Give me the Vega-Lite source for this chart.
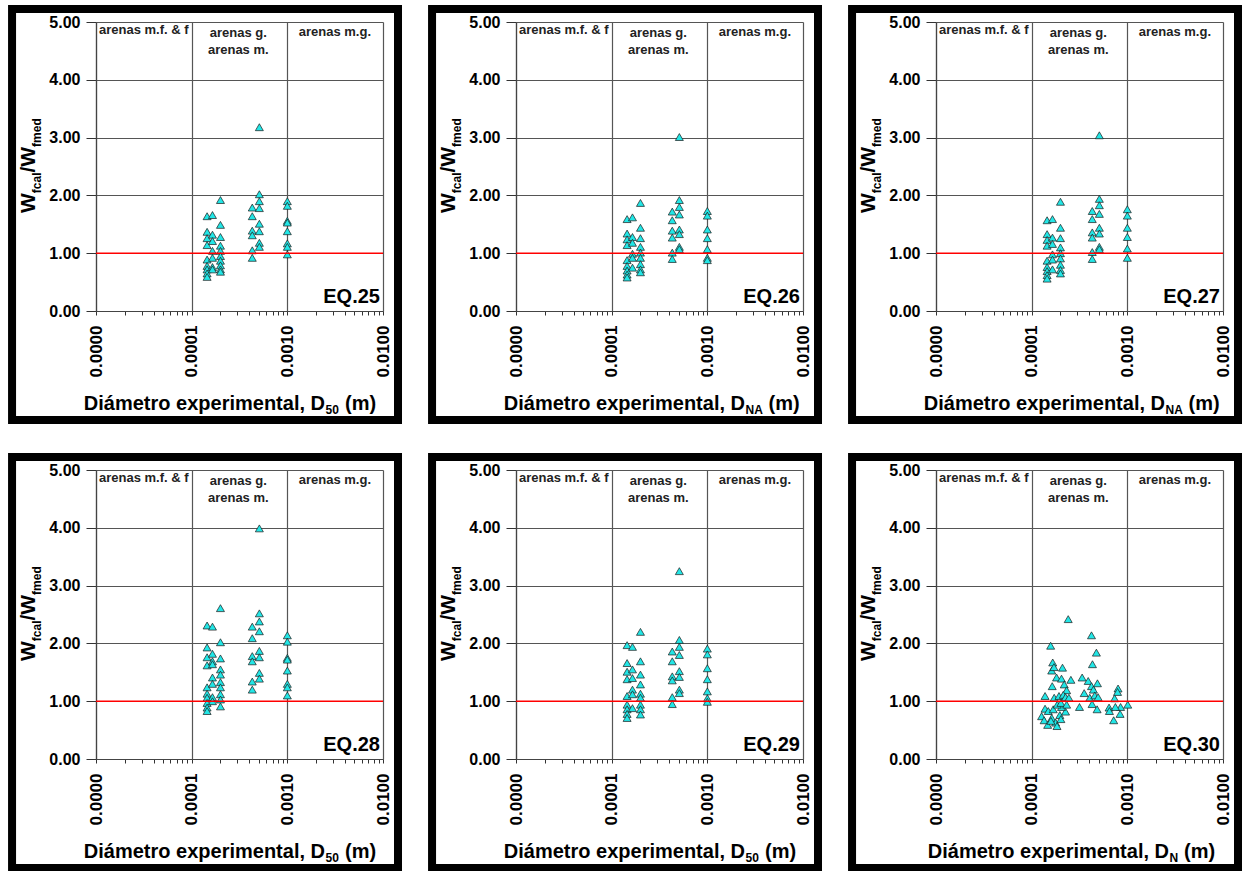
{
  "$schema": "https://vega.github.io/schema/vega-lite/v6.json",
  "padding": {"left": 8, "top": 4, "right": 0, "bottom": 0},
  "background": "white",
  "datasets": {
    "points": [
      {"eq":"EQ.25","d":0.000145,"w":1.64},{"eq":"EQ.25","d":0.000145,"w":1.37},{"eq":"EQ.25","d":0.000145,"w":1.26},{"eq":"EQ.25","d":0.000145,"w":1.14},{"eq":"EQ.25","d":0.000145,"w":0.89},{"eq":"EQ.25","d":0.000145,"w":0.78},{"eq":"EQ.25","d":0.000145,"w":0.72},{"eq":"EQ.25","d":0.000145,"w":0.65},{"eq":"EQ.25","d":0.000145,"w":0.59},
      {"eq":"EQ.25","d":0.000165,"w":1.66},{"eq":"EQ.25","d":0.000165,"w":1.32},{"eq":"EQ.25","d":0.000165,"w":1.21},{"eq":"EQ.25","d":0.000165,"w":1.04},{"eq":"EQ.25","d":0.000165,"w":0.92},{"eq":"EQ.25","d":0.000165,"w":0.76},{"eq":"EQ.25","d":0.000165,"w":0.72},
      {"eq":"EQ.25","d":0.0002,"w":1.92},{"eq":"EQ.25","d":0.0002,"w":1.49},{"eq":"EQ.25","d":0.0002,"w":1.28},{"eq":"EQ.25","d":0.0002,"w":1.13},{"eq":"EQ.25","d":0.0002,"w":1.04},{"eq":"EQ.25","d":0.0002,"w":0.95},{"eq":"EQ.25","d":0.0002,"w":0.87},{"eq":"EQ.25","d":0.0002,"w":0.79},{"eq":"EQ.25","d":0.0002,"w":0.72},{"eq":"EQ.25","d":0.0002,"w":0.68},
      {"eq":"EQ.25","d":0.00043,"w":1.79},{"eq":"EQ.25","d":0.00043,"w":1.64},{"eq":"EQ.25","d":0.00043,"w":1.39},{"eq":"EQ.25","d":0.00043,"w":1.31},{"eq":"EQ.25","d":0.00043,"w":1.05},{"eq":"EQ.25","d":0.00043,"w":0.92},
      {"eq":"EQ.25","d":0.00051,"w":3.18},{"eq":"EQ.25","d":0.00051,"w":2.02},{"eq":"EQ.25","d":0.00051,"w":1.90},{"eq":"EQ.25","d":0.00051,"w":1.78},{"eq":"EQ.25","d":0.00051,"w":1.51},{"eq":"EQ.25","d":0.00051,"w":1.38},{"eq":"EQ.25","d":0.00051,"w":1.18},{"eq":"EQ.25","d":0.00051,"w":1.11},
      {"eq":"EQ.25","d":0.001,"w":1.90},{"eq":"EQ.25","d":0.001,"w":1.82},{"eq":"EQ.25","d":0.001,"w":1.56},{"eq":"EQ.25","d":0.001,"w":1.53},{"eq":"EQ.25","d":0.001,"w":1.38},{"eq":"EQ.25","d":0.001,"w":1.17},{"eq":"EQ.25","d":0.001,"w":1.11},{"eq":"EQ.25","d":0.001,"w":0.98},

      {"eq":"EQ.26","d":0.000145,"w":1.59},{"eq":"EQ.26","d":0.000145,"w":1.34},{"eq":"EQ.26","d":0.000145,"w":1.24},{"eq":"EQ.26","d":0.000145,"w":1.14},{"eq":"EQ.26","d":0.000145,"w":0.88},{"eq":"EQ.26","d":0.000145,"w":0.78},{"eq":"EQ.26","d":0.000145,"w":0.70},{"eq":"EQ.26","d":0.000145,"w":0.63},{"eq":"EQ.26","d":0.000145,"w":0.58},
      {"eq":"EQ.26","d":0.000165,"w":1.62},{"eq":"EQ.26","d":0.000165,"w":1.28},{"eq":"EQ.26","d":0.000165,"w":1.18},{"eq":"EQ.26","d":0.000165,"w":0.99},{"eq":"EQ.26","d":0.000165,"w":0.92},{"eq":"EQ.26","d":0.000165,"w":0.75},
      {"eq":"EQ.26","d":0.0002,"w":1.87},{"eq":"EQ.26","d":0.0002,"w":1.44},{"eq":"EQ.26","d":0.0002,"w":1.26},{"eq":"EQ.26","d":0.0002,"w":1.11},{"eq":"EQ.26","d":0.0002,"w":1.01},{"eq":"EQ.26","d":0.0002,"w":0.92},{"eq":"EQ.26","d":0.0002,"w":0.81},{"eq":"EQ.26","d":0.0002,"w":0.72},{"eq":"EQ.26","d":0.0002,"w":0.67},
      {"eq":"EQ.26","d":0.00043,"w":1.72},{"eq":"EQ.26","d":0.00043,"w":1.57},{"eq":"EQ.26","d":0.00043,"w":1.39},{"eq":"EQ.26","d":0.00043,"w":1.27},{"eq":"EQ.26","d":0.00043,"w":1.01},{"eq":"EQ.26","d":0.00043,"w":0.90},
      {"eq":"EQ.26","d":0.00051,"w":3.01},{"eq":"EQ.26","d":0.00051,"w":1.92},{"eq":"EQ.26","d":0.00051,"w":1.80},{"eq":"EQ.26","d":0.00051,"w":1.67},{"eq":"EQ.26","d":0.00051,"w":1.41},{"eq":"EQ.26","d":0.00051,"w":1.33},{"eq":"EQ.26","d":0.00051,"w":1.11},{"eq":"EQ.26","d":0.00051,"w":1.07},
      {"eq":"EQ.26","d":0.001,"w":1.73},{"eq":"EQ.26","d":0.001,"w":1.65},{"eq":"EQ.26","d":0.001,"w":1.41},{"eq":"EQ.26","d":0.001,"w":1.26},{"eq":"EQ.26","d":0.001,"w":1.07},{"eq":"EQ.26","d":0.001,"w":0.92},{"eq":"EQ.26","d":0.001,"w":0.88},

      {"eq":"EQ.27","d":0.000145,"w":1.57},{"eq":"EQ.27","d":0.000145,"w":1.33},{"eq":"EQ.27","d":0.000145,"w":1.23},{"eq":"EQ.27","d":0.000145,"w":1.13},{"eq":"EQ.27","d":0.000145,"w":0.87},{"eq":"EQ.27","d":0.000145,"w":0.76},{"eq":"EQ.27","d":0.000145,"w":0.69},{"eq":"EQ.27","d":0.000145,"w":0.62},{"eq":"EQ.27","d":0.000145,"w":0.56},
      {"eq":"EQ.27","d":0.000165,"w":1.59},{"eq":"EQ.27","d":0.000165,"w":1.27},{"eq":"EQ.27","d":0.000165,"w":1.16},{"eq":"EQ.27","d":0.000165,"w":0.98},{"eq":"EQ.27","d":0.000165,"w":0.89},{"eq":"EQ.27","d":0.000165,"w":0.72},
      {"eq":"EQ.27","d":0.0002,"w":1.89},{"eq":"EQ.27","d":0.0002,"w":1.44},{"eq":"EQ.27","d":0.0002,"w":1.26},{"eq":"EQ.27","d":0.0002,"w":1.10},{"eq":"EQ.27","d":0.0002,"w":1.00},{"eq":"EQ.27","d":0.0002,"w":0.91},{"eq":"EQ.27","d":0.0002,"w":0.80},{"eq":"EQ.27","d":0.0002,"w":0.71},{"eq":"EQ.27","d":0.0002,"w":0.65},
      {"eq":"EQ.27","d":0.00043,"w":1.73},{"eq":"EQ.27","d":0.00043,"w":1.59},{"eq":"EQ.27","d":0.00043,"w":1.36},{"eq":"EQ.27","d":0.00043,"w":1.27},{"eq":"EQ.27","d":0.00043,"w":1.02},{"eq":"EQ.27","d":0.00043,"w":0.90},
      {"eq":"EQ.27","d":0.00051,"w":3.04},{"eq":"EQ.27","d":0.00051,"w":1.94},{"eq":"EQ.27","d":0.00051,"w":1.83},{"eq":"EQ.27","d":0.00051,"w":1.68},{"eq":"EQ.27","d":0.00051,"w":1.44},{"eq":"EQ.27","d":0.00051,"w":1.34},{"eq":"EQ.27","d":0.00051,"w":1.11},{"eq":"EQ.27","d":0.00051,"w":1.07},
      {"eq":"EQ.27","d":0.001,"w":1.76},{"eq":"EQ.27","d":0.001,"w":1.65},{"eq":"EQ.27","d":0.001,"w":1.44},{"eq":"EQ.27","d":0.001,"w":1.28},{"eq":"EQ.27","d":0.001,"w":1.08},{"eq":"EQ.27","d":0.001,"w":0.92},

      {"eq":"EQ.28","d":0.000145,"w":2.31},{"eq":"EQ.28","d":0.000145,"w":1.93},{"eq":"EQ.28","d":0.000145,"w":1.76},{"eq":"EQ.28","d":0.000145,"w":1.62},{"eq":"EQ.28","d":0.000145,"w":1.24},{"eq":"EQ.28","d":0.000145,"w":1.13},{"eq":"EQ.28","d":0.000145,"w":1.06},{"eq":"EQ.28","d":0.000145,"w":0.97},{"eq":"EQ.28","d":0.000145,"w":0.89},{"eq":"EQ.28","d":0.000145,"w":0.83},
      {"eq":"EQ.28","d":0.000165,"w":2.29},{"eq":"EQ.28","d":0.000165,"w":1.82},{"eq":"EQ.28","d":0.000165,"w":1.69},{"eq":"EQ.28","d":0.000165,"w":1.64},{"eq":"EQ.28","d":0.000165,"w":1.41},{"eq":"EQ.28","d":0.000165,"w":1.30},{"eq":"EQ.28","d":0.000165,"w":1.07},{"eq":"EQ.28","d":0.000165,"w":1.00},
      {"eq":"EQ.28","d":0.0002,"w":2.61},{"eq":"EQ.28","d":0.0002,"w":2.02},{"eq":"EQ.28","d":0.0002,"w":1.74},{"eq":"EQ.28","d":0.0002,"w":1.55},{"eq":"EQ.28","d":0.0002,"w":1.46},{"eq":"EQ.28","d":0.0002,"w":1.33},{"eq":"EQ.28","d":0.0002,"w":1.24},{"eq":"EQ.28","d":0.0002,"w":1.12},{"eq":"EQ.28","d":0.0002,"w":1.03},{"eq":"EQ.28","d":0.0002,"w":0.91},
      {"eq":"EQ.28","d":0.00043,"w":2.29},{"eq":"EQ.28","d":0.00043,"w":2.09},{"eq":"EQ.28","d":0.00043,"w":1.78},{"eq":"EQ.28","d":0.00043,"w":1.69},{"eq":"EQ.28","d":0.00043,"w":1.34},{"eq":"EQ.28","d":0.00043,"w":1.20},
      {"eq":"EQ.28","d":0.00051,"w":3.99},{"eq":"EQ.28","d":0.00051,"w":2.52},{"eq":"EQ.28","d":0.00051,"w":2.38},{"eq":"EQ.28","d":0.00051,"w":2.21},{"eq":"EQ.28","d":0.00051,"w":1.87},{"eq":"EQ.28","d":0.00051,"w":1.76},{"eq":"EQ.28","d":0.00051,"w":1.49},{"eq":"EQ.28","d":0.00051,"w":1.39},
      {"eq":"EQ.28","d":0.001,"w":2.14},{"eq":"EQ.28","d":0.001,"w":2.03},{"eq":"EQ.28","d":0.001,"w":1.75},{"eq":"EQ.28","d":0.001,"w":1.72},{"eq":"EQ.28","d":0.001,"w":1.53},{"eq":"EQ.28","d":0.001,"w":1.30},{"eq":"EQ.28","d":0.001,"w":1.24},{"eq":"EQ.28","d":0.001,"w":1.10},

      {"eq":"EQ.29","d":0.000145,"w":1.97},{"eq":"EQ.29","d":0.000145,"w":1.66},{"eq":"EQ.29","d":0.000145,"w":1.51},{"eq":"EQ.29","d":0.000145,"w":1.38},{"eq":"EQ.29","d":0.000145,"w":1.09},{"eq":"EQ.29","d":0.000145,"w":0.94},{"eq":"EQ.29","d":0.000145,"w":0.86},{"eq":"EQ.29","d":0.000145,"w":0.78},{"eq":"EQ.29","d":0.000145,"w":0.71},
      {"eq":"EQ.29","d":0.000165,"w":1.94},{"eq":"EQ.29","d":0.000165,"w":1.55},{"eq":"EQ.29","d":0.000165,"w":1.40},{"eq":"EQ.29","d":0.000165,"w":1.20},{"eq":"EQ.29","d":0.000165,"w":1.12},{"eq":"EQ.29","d":0.000165,"w":0.88},
      {"eq":"EQ.29","d":0.0002,"w":2.20},{"eq":"EQ.29","d":0.0002,"w":1.69},{"eq":"EQ.29","d":0.0002,"w":1.46},{"eq":"EQ.29","d":0.0002,"w":1.29},{"eq":"EQ.29","d":0.0002,"w":1.13},{"eq":"EQ.29","d":0.0002,"w":1.06},{"eq":"EQ.29","d":0.0002,"w":0.94},{"eq":"EQ.29","d":0.0002,"w":0.86},{"eq":"EQ.29","d":0.0002,"w":0.77},
      {"eq":"EQ.29","d":0.00043,"w":1.86},{"eq":"EQ.29","d":0.00043,"w":1.69},{"eq":"EQ.29","d":0.00043,"w":1.43},{"eq":"EQ.29","d":0.00043,"w":1.36},{"eq":"EQ.29","d":0.00043,"w":1.07},{"eq":"EQ.29","d":0.00043,"w":0.95},
      {"eq":"EQ.29","d":0.00051,"w":3.25},{"eq":"EQ.29","d":0.00051,"w":2.06},{"eq":"EQ.29","d":0.00051,"w":1.94},{"eq":"EQ.29","d":0.00051,"w":1.80},{"eq":"EQ.29","d":0.00051,"w":1.52},{"eq":"EQ.29","d":0.00051,"w":1.42},{"eq":"EQ.29","d":0.00051,"w":1.20},{"eq":"EQ.29","d":0.00051,"w":1.14},
      {"eq":"EQ.29","d":0.001,"w":1.91},{"eq":"EQ.29","d":0.001,"w":1.81},{"eq":"EQ.29","d":0.001,"w":1.57},{"eq":"EQ.29","d":0.001,"w":1.38},{"eq":"EQ.29","d":0.001,"w":1.17},{"eq":"EQ.29","d":0.001,"w":1.05},{"eq":"EQ.29","d":0.001,"w":0.99},

      {"eq":"EQ.30","d":0.000241,"w":2.42},{"eq":"EQ.30","d":0.000422,"w":2.14},{"eq":"EQ.30","d":0.000158,"w":1.96},{"eq":"EQ.30","d":0.000475,"w":1.84},{"eq":"EQ.30","d":0.000432,"w":1.64},{"eq":"EQ.30","d":0.000166,"w":1.67},{"eq":"EQ.30","d":0.000162,"w":1.53},{"eq":"EQ.30","d":0.000171,"w":1.59},{"eq":"EQ.30","d":0.00021,"w":1.58},{"eq":"EQ.30","d":0.000182,"w":1.41},
      {"eq":"EQ.30","d":0.000205,"w":1.39},{"eq":"EQ.30","d":0.000257,"w":1.37},{"eq":"EQ.30","d":0.000337,"w":1.41},{"eq":"EQ.30","d":0.00039,"w":1.35},{"eq":"EQ.30","d":0.000487,"w":1.31},{"eq":"EQ.30","d":0.000164,"w":1.26},{"eq":"EQ.30","d":0.000219,"w":1.29},{"eq":"EQ.30","d":0.000232,"w":1.19},{"eq":"EQ.30","d":0.000422,"w":1.26},{"eq":"EQ.30","d":0.000442,"w":1.20},
      {"eq":"EQ.30","d":0.000354,"w":1.14},{"eq":"EQ.30","d":0.000138,"w":1.09},{"eq":"EQ.30","d":0.000172,"w":1.06},{"eq":"EQ.30","d":0.000193,"w":1.09},{"eq":"EQ.30","d":0.000214,"w":1.11},{"eq":"EQ.30","d":0.000226,"w":1.07},{"eq":"EQ.30","d":0.000245,"w":1.06},{"eq":"EQ.30","d":0.000405,"w":1.06},{"eq":"EQ.30","d":0.000457,"w":1.10},{"eq":"EQ.30","d":0.000495,"w":1.07},
      {"eq":"EQ.30","d":0.000428,"w":0.95},{"eq":"EQ.30","d":0.0008,"w":1.22},{"eq":"EQ.30","d":0.00079,"w":1.16},{"eq":"EQ.30","d":0.000736,"w":1.05},{"eq":"EQ.30","d":0.00101,"w":0.94},{"eq":"EQ.30","d":0.00085,"w":0.90},{"eq":"EQ.30","d":0.000644,"w":0.89},{"eq":"EQ.30","d":0.00065,"w":0.83},{"eq":"EQ.30","d":0.00075,"w":0.90},{"eq":"EQ.30","d":0.00084,"w":0.78},
      {"eq":"EQ.30","d":0.00072,"w":0.67},{"eq":"EQ.30","d":0.000316,"w":0.90},{"eq":"EQ.30","d":0.000483,"w":0.86},{"eq":"EQ.30","d":0.000138,"w":0.87},{"eq":"EQ.30","d":0.000149,"w":0.83},{"eq":"EQ.30","d":0.000127,"w":0.74},{"eq":"EQ.30","d":0.000135,"w":0.67},{"eq":"EQ.30","d":0.000147,"w":0.59},{"eq":"EQ.30","d":0.000162,"w":0.71},{"eq":"EQ.30","d":0.000168,"w":0.86},
      {"eq":"EQ.30","d":0.000178,"w":0.63},{"eq":"EQ.30","d":0.000184,"w":0.57},{"eq":"EQ.30","d":0.000197,"w":0.76},{"eq":"EQ.30","d":0.000202,"w":0.69},{"eq":"EQ.30","d":0.000226,"w":0.82},{"eq":"EQ.30","d":0.000205,"w":0.90},{"eq":"EQ.30","d":0.000185,"w":0.94},{"eq":"EQ.30","d":0.000202,"w":0.97},{"eq":"EQ.30","d":0.000232,"w":0.94},{"eq":"EQ.30","d":0.000159,"w":0.66}
    ]
  },
  "data": {"name": "points"},
  "columns": 3,
  "spacing": {"row": 159, "column": 133},
  "bounds": "flush",
  "concat": [
    {
      "transform": [{"filter": "datum.eq == 'EQ.25'"}],
      "width": 287, "height": 289,
      "layer": [
        {"mark": {"type": "point", "shape": "triangle-up", "filled": true, "fill": "#22e6e6", "stroke": "#1a1a1a", "strokeWidth": 0.7, "size": 64, "opacity": 1},
         "encoding": {
           "x": {"field": "d", "type": "quantitative", "scale": {"type": "log", "domain": [0.00001, 0.01]},
                 "axis": {"title": null, "values": [0.00001,0.00002,0.00003,0.00004,0.00005,0.00006,0.00007,0.00008,0.00009,0.0001,0.0002,0.0003,0.0004,0.0005,0.0006,0.0007,0.0008,0.0009,0.001,0.002,0.003,0.004,0.005,0.006,0.007,0.008,0.009,0.01],
                          "labelExpr": "abs(log(datum.value)/LN10 - round(log(datum.value)/LN10)) < 0.001 ? format(datum.value, '.4f') : ''",
                          "gridOpacity": {"condition": {"test": "abs(log(datum.value)/LN10 - round(log(datum.value)/LN10)) > 0.001", "value": 0}, "value": 1}}},
           "y": {"field": "w", "type": "quantitative", "scale": {"domain": [0, 5], "nice": false, "zero": false},
                 "axis": {"title": null, "values": [0,0.5,1,1.5,2,2.5,3,3.5,4,4.5,5],
                          "labelExpr": "datum.value % 1 == 0 ? format(datum.value, '.2f') : ''",
                          "tickDash": {"condition": {"test": "datum.value % 1 != 0", "value": [5, 10]}, "value": [10, 0]},
                          "gridOpacity": {"condition": {"test": "datum.value % 1 != 0", "value": 0}, "value": 1}}}
         }},
        {"transform": [{"aggregate": [{"op": "count", "as": "n"}]}],
         "mark": {"type": "rect", "fill": null, "fillOpacity": 0, "stroke": "#000000", "strokeWidth": 8},
         "encoding": {"x": {"datum": 0.000001326, "type": "quantitative"}, "x2": {"datum": 0.01435},
                      "y": {"datum": -1.886, "type": "quantitative"}, "y2": {"datum": 5.225}}},
        {"transform": [{"aggregate": [{"op": "count", "as": "n"}]}],
         "mark": {"type": "rule", "color": "#ff0000", "strokeWidth": 1.6},
         "encoding": {"y": {"datum": 1, "type": "quantitative"}}},
        {"transform": [{"aggregate": [{"op": "count", "as": "n"}]}],
         "mark": {"type": "text", "text": "arenas m.f. & f", "fontSize": 13, "color": "#222222", "align": "center"},
         "encoding": {"x": {"datum": 0.0000316, "type": "quantitative"}, "y": {"datum": 4.79, "type": "quantitative"}}},
        {"transform": [{"aggregate": [{"op": "count", "as": "n"}]}],
         "mark": {"type": "text", "text": "arenas g.", "fontSize": 13, "color": "#222222", "align": "center"},
         "encoding": {"x": {"datum": 0.000307, "type": "quantitative"}, "y": {"datum": 4.74, "type": "quantitative"}}},
        {"transform": [{"aggregate": [{"op": "count", "as": "n"}]}],
         "mark": {"type": "text", "text": "arenas m.", "fontSize": 13, "color": "#222222", "align": "center"},
         "encoding": {"x": {"datum": 0.000307, "type": "quantitative"}, "y": {"datum": 4.45, "type": "quantitative"}}},
        {"transform": [{"aggregate": [{"op": "count", "as": "n"}]}],
         "mark": {"type": "text", "text": "arenas m.g.", "fontSize": 13, "color": "#222222", "align": "center"},
         "encoding": {"x": {"datum": 0.00314, "type": "quantitative"}, "y": {"datum": 4.76, "type": "quantitative"}}},
        {"transform": [{"aggregate": [{"op": "count", "as": "n"}]}],
         "mark": {"type": "text", "text": "EQ.25", "fontSize": 20, "align": "right"},
         "encoding": {"x": {"datum": 0.0093, "type": "quantitative"}, "y": {"datum": 0.144, "type": "quantitative"}}},
        {"transform": [{"aggregate": [{"op": "count", "as": "n"}]}],
         "mark": {"type": "text", "text": "W", "fontSize": 21, "align": "left", "angle": 270, "dx": -46.5, "dy": -61},
         "encoding": {"x": {"datum": 0.00001, "type": "quantitative"}, "y": {"datum": 2.5, "type": "quantitative"}}},
        {"transform": [{"aggregate": [{"op": "count", "as": "n"}]}],
         "mark": {"type": "text", "text": "fcal", "fontSize": 12, "align": "left", "angle": 270, "dx": -26.7, "dy": -55},
         "encoding": {"x": {"datum": 0.00001, "type": "quantitative"}, "y": {"datum": 2.5, "type": "quantitative"}}},
        {"transform": [{"aggregate": [{"op": "count", "as": "n"}]}],
         "mark": {"type": "text", "text": "/W", "fontSize": 21, "align": "left", "angle": 270, "dx": -6, "dy": -61},
         "encoding": {"x": {"datum": 0.00001, "type": "quantitative"}, "y": {"datum": 2.5, "type": "quantitative"}}},
        {"transform": [{"aggregate": [{"op": "count", "as": "n"}]}],
         "mark": {"type": "text", "text": "fmed", "fontSize": 12, "align": "left", "angle": 270, "dx": 19.6, "dy": -55},
         "encoding": {"x": {"datum": 0.00001, "type": "quantitative"}, "y": {"datum": 2.5, "type": "quantitative"}}},
        {"transform": [{"aggregate": [{"op": "count", "as": "n"}]}],
         "mark": {"type": "text", "text": "Diámetro experimental, D", "fontSize": 20, "align": "right", "dx": 229, "dy": 99},
         "encoding": {"x": {"datum": 0.00001, "type": "quantitative"}, "y": {"datum": 0, "type": "quantitative"}}},
        {"transform": [{"aggregate": [{"op": "count", "as": "n"}]}],
         "mark": {"type": "text", "text": "50", "fontSize": 12, "align": "left", "dx": 229.5, "dy": 103},
         "encoding": {"x": {"datum": 0.00001, "type": "quantitative"}, "y": {"datum": 0, "type": "quantitative"}}},
        {"transform": [{"aggregate": [{"op": "count", "as": "n"}]}],
         "mark": {"type": "text", "text": "(m)", "fontSize": 20, "align": "left", "dx": 249, "dy": 99},
         "encoding": {"x": {"datum": 0.00001, "type": "quantitative"}, "y": {"datum": 0, "type": "quantitative"}}}
      ]
    },
    {
      "transform": [{"filter": "datum.eq == 'EQ.26'"}],
      "width": 287, "height": 289,
      "layer": [
        {"mark": {"type": "point", "shape": "triangle-up", "filled": true, "fill": "#22e6e6", "stroke": "#1a1a1a", "strokeWidth": 0.7, "size": 64, "opacity": 1},
         "encoding": {
           "x": {"field": "d", "type": "quantitative", "scale": {"type": "log", "domain": [0.00001, 0.01]},
                 "axis": {"title": null, "values": [0.00001,0.00002,0.00003,0.00004,0.00005,0.00006,0.00007,0.00008,0.00009,0.0001,0.0002,0.0003,0.0004,0.0005,0.0006,0.0007,0.0008,0.0009,0.001,0.002,0.003,0.004,0.005,0.006,0.007,0.008,0.009,0.01],
                          "labelExpr": "abs(log(datum.value)/LN10 - round(log(datum.value)/LN10)) < 0.001 ? format(datum.value, '.4f') : ''",
                          "gridOpacity": {"condition": {"test": "abs(log(datum.value)/LN10 - round(log(datum.value)/LN10)) > 0.001", "value": 0}, "value": 1}}},
           "y": {"field": "w", "type": "quantitative", "scale": {"domain": [0, 5], "nice": false, "zero": false},
                 "axis": {"title": null, "values": [0,0.5,1,1.5,2,2.5,3,3.5,4,4.5,5],
                          "labelExpr": "datum.value % 1 == 0 ? format(datum.value, '.2f') : ''",
                          "tickDash": {"condition": {"test": "datum.value % 1 != 0", "value": [5, 10]}, "value": [10, 0]},
                          "gridOpacity": {"condition": {"test": "datum.value % 1 != 0", "value": 0}, "value": 1}}}
         }},
        {"transform": [{"aggregate": [{"op": "count", "as": "n"}]}],
         "mark": {"type": "rect", "fill": null, "fillOpacity": 0, "stroke": "#000000", "strokeWidth": 8},
         "encoding": {"x": {"datum": 0.000001326, "type": "quantitative"}, "x2": {"datum": 0.01435},
                      "y": {"datum": -1.886, "type": "quantitative"}, "y2": {"datum": 5.225}}},
        {"transform": [{"aggregate": [{"op": "count", "as": "n"}]}],
         "mark": {"type": "rule", "color": "#ff0000", "strokeWidth": 1.6},
         "encoding": {"y": {"datum": 1, "type": "quantitative"}}},
        {"transform": [{"aggregate": [{"op": "count", "as": "n"}]}],
         "mark": {"type": "text", "text": "arenas m.f. & f", "fontSize": 13, "color": "#222222", "align": "center"},
         "encoding": {"x": {"datum": 0.0000316, "type": "quantitative"}, "y": {"datum": 4.79, "type": "quantitative"}}},
        {"transform": [{"aggregate": [{"op": "count", "as": "n"}]}],
         "mark": {"type": "text", "text": "arenas g.", "fontSize": 13, "color": "#222222", "align": "center"},
         "encoding": {"x": {"datum": 0.000307, "type": "quantitative"}, "y": {"datum": 4.74, "type": "quantitative"}}},
        {"transform": [{"aggregate": [{"op": "count", "as": "n"}]}],
         "mark": {"type": "text", "text": "arenas m.", "fontSize": 13, "color": "#222222", "align": "center"},
         "encoding": {"x": {"datum": 0.000307, "type": "quantitative"}, "y": {"datum": 4.45, "type": "quantitative"}}},
        {"transform": [{"aggregate": [{"op": "count", "as": "n"}]}],
         "mark": {"type": "text", "text": "arenas m.g.", "fontSize": 13, "color": "#222222", "align": "center"},
         "encoding": {"x": {"datum": 0.00314, "type": "quantitative"}, "y": {"datum": 4.76, "type": "quantitative"}}},
        {"transform": [{"aggregate": [{"op": "count", "as": "n"}]}],
         "mark": {"type": "text", "text": "EQ.26", "fontSize": 20, "align": "right"},
         "encoding": {"x": {"datum": 0.0093, "type": "quantitative"}, "y": {"datum": 0.144, "type": "quantitative"}}},
        {"transform": [{"aggregate": [{"op": "count", "as": "n"}]}],
         "mark": {"type": "text", "text": "W", "fontSize": 21, "align": "left", "angle": 270, "dx": -46.5, "dy": -61},
         "encoding": {"x": {"datum": 0.00001, "type": "quantitative"}, "y": {"datum": 2.5, "type": "quantitative"}}},
        {"transform": [{"aggregate": [{"op": "count", "as": "n"}]}],
         "mark": {"type": "text", "text": "fcal", "fontSize": 12, "align": "left", "angle": 270, "dx": -26.7, "dy": -55},
         "encoding": {"x": {"datum": 0.00001, "type": "quantitative"}, "y": {"datum": 2.5, "type": "quantitative"}}},
        {"transform": [{"aggregate": [{"op": "count", "as": "n"}]}],
         "mark": {"type": "text", "text": "/W", "fontSize": 21, "align": "left", "angle": 270, "dx": -6, "dy": -61},
         "encoding": {"x": {"datum": 0.00001, "type": "quantitative"}, "y": {"datum": 2.5, "type": "quantitative"}}},
        {"transform": [{"aggregate": [{"op": "count", "as": "n"}]}],
         "mark": {"type": "text", "text": "fmed", "fontSize": 12, "align": "left", "angle": 270, "dx": 19.6, "dy": -55},
         "encoding": {"x": {"datum": 0.00001, "type": "quantitative"}, "y": {"datum": 2.5, "type": "quantitative"}}},
        {"transform": [{"aggregate": [{"op": "count", "as": "n"}]}],
         "mark": {"type": "text", "text": "Diámetro experimental, D", "fontSize": 20, "align": "right", "dx": 229, "dy": 99},
         "encoding": {"x": {"datum": 0.00001, "type": "quantitative"}, "y": {"datum": 0, "type": "quantitative"}}},
        {"transform": [{"aggregate": [{"op": "count", "as": "n"}]}],
         "mark": {"type": "text", "text": "NA", "fontSize": 12, "align": "left", "dx": 229.5, "dy": 103},
         "encoding": {"x": {"datum": 0.00001, "type": "quantitative"}, "y": {"datum": 0, "type": "quantitative"}}},
        {"transform": [{"aggregate": [{"op": "count", "as": "n"}]}],
         "mark": {"type": "text", "text": "(m)", "fontSize": 20, "align": "left", "dx": 252.5, "dy": 99},
         "encoding": {"x": {"datum": 0.00001, "type": "quantitative"}, "y": {"datum": 0, "type": "quantitative"}}}
      ]
    },
    {
      "transform": [{"filter": "datum.eq == 'EQ.27'"}],
      "width": 287, "height": 289,
      "layer": [
        {"mark": {"type": "point", "shape": "triangle-up", "filled": true, "fill": "#22e6e6", "stroke": "#1a1a1a", "strokeWidth": 0.7, "size": 64, "opacity": 1},
         "encoding": {
           "x": {"field": "d", "type": "quantitative", "scale": {"type": "log", "domain": [0.00001, 0.01]},
                 "axis": {"title": null, "values": [0.00001,0.00002,0.00003,0.00004,0.00005,0.00006,0.00007,0.00008,0.00009,0.0001,0.0002,0.0003,0.0004,0.0005,0.0006,0.0007,0.0008,0.0009,0.001,0.002,0.003,0.004,0.005,0.006,0.007,0.008,0.009,0.01],
                          "labelExpr": "abs(log(datum.value)/LN10 - round(log(datum.value)/LN10)) < 0.001 ? format(datum.value, '.4f') : ''",
                          "gridOpacity": {"condition": {"test": "abs(log(datum.value)/LN10 - round(log(datum.value)/LN10)) > 0.001", "value": 0}, "value": 1}}},
           "y": {"field": "w", "type": "quantitative", "scale": {"domain": [0, 5], "nice": false, "zero": false},
                 "axis": {"title": null, "values": [0,0.5,1,1.5,2,2.5,3,3.5,4,4.5,5],
                          "labelExpr": "datum.value % 1 == 0 ? format(datum.value, '.2f') : ''",
                          "tickDash": {"condition": {"test": "datum.value % 1 != 0", "value": [5, 10]}, "value": [10, 0]},
                          "gridOpacity": {"condition": {"test": "datum.value % 1 != 0", "value": 0}, "value": 1}}}
         }},
        {"transform": [{"aggregate": [{"op": "count", "as": "n"}]}],
         "mark": {"type": "rect", "fill": null, "fillOpacity": 0, "stroke": "#000000", "strokeWidth": 8},
         "encoding": {"x": {"datum": 0.000001326, "type": "quantitative"}, "x2": {"datum": 0.01435},
                      "y": {"datum": -1.886, "type": "quantitative"}, "y2": {"datum": 5.225}}},
        {"transform": [{"aggregate": [{"op": "count", "as": "n"}]}],
         "mark": {"type": "rule", "color": "#ff0000", "strokeWidth": 1.6},
         "encoding": {"y": {"datum": 1, "type": "quantitative"}}},
        {"transform": [{"aggregate": [{"op": "count", "as": "n"}]}],
         "mark": {"type": "text", "text": "arenas m.f. & f", "fontSize": 13, "color": "#222222", "align": "center"},
         "encoding": {"x": {"datum": 0.0000316, "type": "quantitative"}, "y": {"datum": 4.79, "type": "quantitative"}}},
        {"transform": [{"aggregate": [{"op": "count", "as": "n"}]}],
         "mark": {"type": "text", "text": "arenas g.", "fontSize": 13, "color": "#222222", "align": "center"},
         "encoding": {"x": {"datum": 0.000307, "type": "quantitative"}, "y": {"datum": 4.74, "type": "quantitative"}}},
        {"transform": [{"aggregate": [{"op": "count", "as": "n"}]}],
         "mark": {"type": "text", "text": "arenas m.", "fontSize": 13, "color": "#222222", "align": "center"},
         "encoding": {"x": {"datum": 0.000307, "type": "quantitative"}, "y": {"datum": 4.45, "type": "quantitative"}}},
        {"transform": [{"aggregate": [{"op": "count", "as": "n"}]}],
         "mark": {"type": "text", "text": "arenas m.g.", "fontSize": 13, "color": "#222222", "align": "center"},
         "encoding": {"x": {"datum": 0.00314, "type": "quantitative"}, "y": {"datum": 4.76, "type": "quantitative"}}},
        {"transform": [{"aggregate": [{"op": "count", "as": "n"}]}],
         "mark": {"type": "text", "text": "EQ.27", "fontSize": 20, "align": "right"},
         "encoding": {"x": {"datum": 0.0093, "type": "quantitative"}, "y": {"datum": 0.144, "type": "quantitative"}}},
        {"transform": [{"aggregate": [{"op": "count", "as": "n"}]}],
         "mark": {"type": "text", "text": "W", "fontSize": 21, "align": "left", "angle": 270, "dx": -46.5, "dy": -61},
         "encoding": {"x": {"datum": 0.00001, "type": "quantitative"}, "y": {"datum": 2.5, "type": "quantitative"}}},
        {"transform": [{"aggregate": [{"op": "count", "as": "n"}]}],
         "mark": {"type": "text", "text": "fcal", "fontSize": 12, "align": "left", "angle": 270, "dx": -26.7, "dy": -55},
         "encoding": {"x": {"datum": 0.00001, "type": "quantitative"}, "y": {"datum": 2.5, "type": "quantitative"}}},
        {"transform": [{"aggregate": [{"op": "count", "as": "n"}]}],
         "mark": {"type": "text", "text": "/W", "fontSize": 21, "align": "left", "angle": 270, "dx": -6, "dy": -61},
         "encoding": {"x": {"datum": 0.00001, "type": "quantitative"}, "y": {"datum": 2.5, "type": "quantitative"}}},
        {"transform": [{"aggregate": [{"op": "count", "as": "n"}]}],
         "mark": {"type": "text", "text": "fmed", "fontSize": 12, "align": "left", "angle": 270, "dx": 19.6, "dy": -55},
         "encoding": {"x": {"datum": 0.00001, "type": "quantitative"}, "y": {"datum": 2.5, "type": "quantitative"}}},
        {"transform": [{"aggregate": [{"op": "count", "as": "n"}]}],
         "mark": {"type": "text", "text": "Diámetro experimental, D", "fontSize": 20, "align": "right", "dx": 229, "dy": 99},
         "encoding": {"x": {"datum": 0.00001, "type": "quantitative"}, "y": {"datum": 0, "type": "quantitative"}}},
        {"transform": [{"aggregate": [{"op": "count", "as": "n"}]}],
         "mark": {"type": "text", "text": "NA", "fontSize": 12, "align": "left", "dx": 229.5, "dy": 103},
         "encoding": {"x": {"datum": 0.00001, "type": "quantitative"}, "y": {"datum": 0, "type": "quantitative"}}},
        {"transform": [{"aggregate": [{"op": "count", "as": "n"}]}],
         "mark": {"type": "text", "text": "(m)", "fontSize": 20, "align": "left", "dx": 252.5, "dy": 99},
         "encoding": {"x": {"datum": 0.00001, "type": "quantitative"}, "y": {"datum": 0, "type": "quantitative"}}}
      ]
    },
    {
      "transform": [{"filter": "datum.eq == 'EQ.28'"}],
      "width": 287, "height": 289,
      "layer": [
        {"mark": {"type": "point", "shape": "triangle-up", "filled": true, "fill": "#22e6e6", "stroke": "#1a1a1a", "strokeWidth": 0.7, "size": 64, "opacity": 1},
         "encoding": {
           "x": {"field": "d", "type": "quantitative", "scale": {"type": "log", "domain": [0.00001, 0.01]},
                 "axis": {"title": null, "values": [0.00001,0.00002,0.00003,0.00004,0.00005,0.00006,0.00007,0.00008,0.00009,0.0001,0.0002,0.0003,0.0004,0.0005,0.0006,0.0007,0.0008,0.0009,0.001,0.002,0.003,0.004,0.005,0.006,0.007,0.008,0.009,0.01],
                          "labelExpr": "abs(log(datum.value)/LN10 - round(log(datum.value)/LN10)) < 0.001 ? format(datum.value, '.4f') : ''",
                          "gridOpacity": {"condition": {"test": "abs(log(datum.value)/LN10 - round(log(datum.value)/LN10)) > 0.001", "value": 0}, "value": 1}}},
           "y": {"field": "w", "type": "quantitative", "scale": {"domain": [0, 5], "nice": false, "zero": false},
                 "axis": {"title": null, "values": [0,0.5,1,1.5,2,2.5,3,3.5,4,4.5,5],
                          "labelExpr": "datum.value % 1 == 0 ? format(datum.value, '.2f') : ''",
                          "tickDash": {"condition": {"test": "datum.value % 1 != 0", "value": [5, 10]}, "value": [10, 0]},
                          "gridOpacity": {"condition": {"test": "datum.value % 1 != 0", "value": 0}, "value": 1}}}
         }},
        {"transform": [{"aggregate": [{"op": "count", "as": "n"}]}],
         "mark": {"type": "rect", "fill": null, "fillOpacity": 0, "stroke": "#000000", "strokeWidth": 8},
         "encoding": {"x": {"datum": 0.000001326, "type": "quantitative"}, "x2": {"datum": 0.01435},
                      "y": {"datum": -1.886, "type": "quantitative"}, "y2": {"datum": 5.225}}},
        {"transform": [{"aggregate": [{"op": "count", "as": "n"}]}],
         "mark": {"type": "rule", "color": "#ff0000", "strokeWidth": 1.6},
         "encoding": {"y": {"datum": 1, "type": "quantitative"}}},
        {"transform": [{"aggregate": [{"op": "count", "as": "n"}]}],
         "mark": {"type": "text", "text": "arenas m.f. & f", "fontSize": 13, "color": "#222222", "align": "center"},
         "encoding": {"x": {"datum": 0.0000316, "type": "quantitative"}, "y": {"datum": 4.79, "type": "quantitative"}}},
        {"transform": [{"aggregate": [{"op": "count", "as": "n"}]}],
         "mark": {"type": "text", "text": "arenas g.", "fontSize": 13, "color": "#222222", "align": "center"},
         "encoding": {"x": {"datum": 0.000307, "type": "quantitative"}, "y": {"datum": 4.74, "type": "quantitative"}}},
        {"transform": [{"aggregate": [{"op": "count", "as": "n"}]}],
         "mark": {"type": "text", "text": "arenas m.", "fontSize": 13, "color": "#222222", "align": "center"},
         "encoding": {"x": {"datum": 0.000307, "type": "quantitative"}, "y": {"datum": 4.45, "type": "quantitative"}}},
        {"transform": [{"aggregate": [{"op": "count", "as": "n"}]}],
         "mark": {"type": "text", "text": "arenas m.g.", "fontSize": 13, "color": "#222222", "align": "center"},
         "encoding": {"x": {"datum": 0.00314, "type": "quantitative"}, "y": {"datum": 4.76, "type": "quantitative"}}},
        {"transform": [{"aggregate": [{"op": "count", "as": "n"}]}],
         "mark": {"type": "text", "text": "EQ.28", "fontSize": 20, "align": "right"},
         "encoding": {"x": {"datum": 0.0093, "type": "quantitative"}, "y": {"datum": 0.144, "type": "quantitative"}}},
        {"transform": [{"aggregate": [{"op": "count", "as": "n"}]}],
         "mark": {"type": "text", "text": "W", "fontSize": 21, "align": "left", "angle": 270, "dx": -46.5, "dy": -61},
         "encoding": {"x": {"datum": 0.00001, "type": "quantitative"}, "y": {"datum": 2.5, "type": "quantitative"}}},
        {"transform": [{"aggregate": [{"op": "count", "as": "n"}]}],
         "mark": {"type": "text", "text": "fcal", "fontSize": 12, "align": "left", "angle": 270, "dx": -26.7, "dy": -55},
         "encoding": {"x": {"datum": 0.00001, "type": "quantitative"}, "y": {"datum": 2.5, "type": "quantitative"}}},
        {"transform": [{"aggregate": [{"op": "count", "as": "n"}]}],
         "mark": {"type": "text", "text": "/W", "fontSize": 21, "align": "left", "angle": 270, "dx": -6, "dy": -61},
         "encoding": {"x": {"datum": 0.00001, "type": "quantitative"}, "y": {"datum": 2.5, "type": "quantitative"}}},
        {"transform": [{"aggregate": [{"op": "count", "as": "n"}]}],
         "mark": {"type": "text", "text": "fmed", "fontSize": 12, "align": "left", "angle": 270, "dx": 19.6, "dy": -55},
         "encoding": {"x": {"datum": 0.00001, "type": "quantitative"}, "y": {"datum": 2.5, "type": "quantitative"}}},
        {"transform": [{"aggregate": [{"op": "count", "as": "n"}]}],
         "mark": {"type": "text", "text": "Diámetro experimental, D", "fontSize": 20, "align": "right", "dx": 229, "dy": 99},
         "encoding": {"x": {"datum": 0.00001, "type": "quantitative"}, "y": {"datum": 0, "type": "quantitative"}}},
        {"transform": [{"aggregate": [{"op": "count", "as": "n"}]}],
         "mark": {"type": "text", "text": "50", "fontSize": 12, "align": "left", "dx": 229.5, "dy": 103},
         "encoding": {"x": {"datum": 0.00001, "type": "quantitative"}, "y": {"datum": 0, "type": "quantitative"}}},
        {"transform": [{"aggregate": [{"op": "count", "as": "n"}]}],
         "mark": {"type": "text", "text": "(m)", "fontSize": 20, "align": "left", "dx": 249, "dy": 99},
         "encoding": {"x": {"datum": 0.00001, "type": "quantitative"}, "y": {"datum": 0, "type": "quantitative"}}}
      ]
    },
    {
      "transform": [{"filter": "datum.eq == 'EQ.29'"}],
      "width": 287, "height": 289,
      "layer": [
        {"mark": {"type": "point", "shape": "triangle-up", "filled": true, "fill": "#22e6e6", "stroke": "#1a1a1a", "strokeWidth": 0.7, "size": 64, "opacity": 1},
         "encoding": {
           "x": {"field": "d", "type": "quantitative", "scale": {"type": "log", "domain": [0.00001, 0.01]},
                 "axis": {"title": null, "values": [0.00001,0.00002,0.00003,0.00004,0.00005,0.00006,0.00007,0.00008,0.00009,0.0001,0.0002,0.0003,0.0004,0.0005,0.0006,0.0007,0.0008,0.0009,0.001,0.002,0.003,0.004,0.005,0.006,0.007,0.008,0.009,0.01],
                          "labelExpr": "abs(log(datum.value)/LN10 - round(log(datum.value)/LN10)) < 0.001 ? format(datum.value, '.4f') : ''",
                          "gridOpacity": {"condition": {"test": "abs(log(datum.value)/LN10 - round(log(datum.value)/LN10)) > 0.001", "value": 0}, "value": 1}}},
           "y": {"field": "w", "type": "quantitative", "scale": {"domain": [0, 5], "nice": false, "zero": false},
                 "axis": {"title": null, "values": [0,0.5,1,1.5,2,2.5,3,3.5,4,4.5,5],
                          "labelExpr": "datum.value % 1 == 0 ? format(datum.value, '.2f') : ''",
                          "tickDash": {"condition": {"test": "datum.value % 1 != 0", "value": [5, 10]}, "value": [10, 0]},
                          "gridOpacity": {"condition": {"test": "datum.value % 1 != 0", "value": 0}, "value": 1}}}
         }},
        {"transform": [{"aggregate": [{"op": "count", "as": "n"}]}],
         "mark": {"type": "rect", "fill": null, "fillOpacity": 0, "stroke": "#000000", "strokeWidth": 8},
         "encoding": {"x": {"datum": 0.000001326, "type": "quantitative"}, "x2": {"datum": 0.01435},
                      "y": {"datum": -1.886, "type": "quantitative"}, "y2": {"datum": 5.225}}},
        {"transform": [{"aggregate": [{"op": "count", "as": "n"}]}],
         "mark": {"type": "rule", "color": "#ff0000", "strokeWidth": 1.6},
         "encoding": {"y": {"datum": 1, "type": "quantitative"}}},
        {"transform": [{"aggregate": [{"op": "count", "as": "n"}]}],
         "mark": {"type": "text", "text": "arenas m.f. & f", "fontSize": 13, "color": "#222222", "align": "center"},
         "encoding": {"x": {"datum": 0.0000316, "type": "quantitative"}, "y": {"datum": 4.79, "type": "quantitative"}}},
        {"transform": [{"aggregate": [{"op": "count", "as": "n"}]}],
         "mark": {"type": "text", "text": "arenas g.", "fontSize": 13, "color": "#222222", "align": "center"},
         "encoding": {"x": {"datum": 0.000307, "type": "quantitative"}, "y": {"datum": 4.74, "type": "quantitative"}}},
        {"transform": [{"aggregate": [{"op": "count", "as": "n"}]}],
         "mark": {"type": "text", "text": "arenas m.", "fontSize": 13, "color": "#222222", "align": "center"},
         "encoding": {"x": {"datum": 0.000307, "type": "quantitative"}, "y": {"datum": 4.45, "type": "quantitative"}}},
        {"transform": [{"aggregate": [{"op": "count", "as": "n"}]}],
         "mark": {"type": "text", "text": "arenas m.g.", "fontSize": 13, "color": "#222222", "align": "center"},
         "encoding": {"x": {"datum": 0.00314, "type": "quantitative"}, "y": {"datum": 4.76, "type": "quantitative"}}},
        {"transform": [{"aggregate": [{"op": "count", "as": "n"}]}],
         "mark": {"type": "text", "text": "EQ.29", "fontSize": 20, "align": "right"},
         "encoding": {"x": {"datum": 0.0093, "type": "quantitative"}, "y": {"datum": 0.144, "type": "quantitative"}}},
        {"transform": [{"aggregate": [{"op": "count", "as": "n"}]}],
         "mark": {"type": "text", "text": "W", "fontSize": 21, "align": "left", "angle": 270, "dx": -46.5, "dy": -61},
         "encoding": {"x": {"datum": 0.00001, "type": "quantitative"}, "y": {"datum": 2.5, "type": "quantitative"}}},
        {"transform": [{"aggregate": [{"op": "count", "as": "n"}]}],
         "mark": {"type": "text", "text": "fcal", "fontSize": 12, "align": "left", "angle": 270, "dx": -26.7, "dy": -55},
         "encoding": {"x": {"datum": 0.00001, "type": "quantitative"}, "y": {"datum": 2.5, "type": "quantitative"}}},
        {"transform": [{"aggregate": [{"op": "count", "as": "n"}]}],
         "mark": {"type": "text", "text": "/W", "fontSize": 21, "align": "left", "angle": 270, "dx": -6, "dy": -61},
         "encoding": {"x": {"datum": 0.00001, "type": "quantitative"}, "y": {"datum": 2.5, "type": "quantitative"}}},
        {"transform": [{"aggregate": [{"op": "count", "as": "n"}]}],
         "mark": {"type": "text", "text": "fmed", "fontSize": 12, "align": "left", "angle": 270, "dx": 19.6, "dy": -55},
         "encoding": {"x": {"datum": 0.00001, "type": "quantitative"}, "y": {"datum": 2.5, "type": "quantitative"}}},
        {"transform": [{"aggregate": [{"op": "count", "as": "n"}]}],
         "mark": {"type": "text", "text": "Diámetro experimental, D", "fontSize": 20, "align": "right", "dx": 229, "dy": 99},
         "encoding": {"x": {"datum": 0.00001, "type": "quantitative"}, "y": {"datum": 0, "type": "quantitative"}}},
        {"transform": [{"aggregate": [{"op": "count", "as": "n"}]}],
         "mark": {"type": "text", "text": "50", "fontSize": 12, "align": "left", "dx": 229.5, "dy": 103},
         "encoding": {"x": {"datum": 0.00001, "type": "quantitative"}, "y": {"datum": 0, "type": "quantitative"}}},
        {"transform": [{"aggregate": [{"op": "count", "as": "n"}]}],
         "mark": {"type": "text", "text": "(m)", "fontSize": 20, "align": "left", "dx": 249, "dy": 99},
         "encoding": {"x": {"datum": 0.00001, "type": "quantitative"}, "y": {"datum": 0, "type": "quantitative"}}}
      ]
    },
    {
      "transform": [{"filter": "datum.eq == 'EQ.30'"}],
      "width": 287, "height": 289,
      "layer": [
        {"mark": {"type": "point", "shape": "triangle-up", "filled": true, "fill": "#22e6e6", "stroke": "#1a1a1a", "strokeWidth": 0.7, "size": 64, "opacity": 1},
         "encoding": {
           "x": {"field": "d", "type": "quantitative", "scale": {"type": "log", "domain": [0.00001, 0.01]},
                 "axis": {"title": null, "values": [0.00001,0.00002,0.00003,0.00004,0.00005,0.00006,0.00007,0.00008,0.00009,0.0001,0.0002,0.0003,0.0004,0.0005,0.0006,0.0007,0.0008,0.0009,0.001,0.002,0.003,0.004,0.005,0.006,0.007,0.008,0.009,0.01],
                          "labelExpr": "abs(log(datum.value)/LN10 - round(log(datum.value)/LN10)) < 0.001 ? format(datum.value, '.4f') : ''",
                          "gridOpacity": {"condition": {"test": "abs(log(datum.value)/LN10 - round(log(datum.value)/LN10)) > 0.001", "value": 0}, "value": 1}}},
           "y": {"field": "w", "type": "quantitative", "scale": {"domain": [0, 5], "nice": false, "zero": false},
                 "axis": {"title": null, "values": [0,0.5,1,1.5,2,2.5,3,3.5,4,4.5,5],
                          "labelExpr": "datum.value % 1 == 0 ? format(datum.value, '.2f') : ''",
                          "tickDash": {"condition": {"test": "datum.value % 1 != 0", "value": [5, 10]}, "value": [10, 0]},
                          "gridOpacity": {"condition": {"test": "datum.value % 1 != 0", "value": 0}, "value": 1}}}
         }},
        {"transform": [{"aggregate": [{"op": "count", "as": "n"}]}],
         "mark": {"type": "rect", "fill": null, "fillOpacity": 0, "stroke": "#000000", "strokeWidth": 8},
         "encoding": {"x": {"datum": 0.000001326, "type": "quantitative"}, "x2": {"datum": 0.01435},
                      "y": {"datum": -1.886, "type": "quantitative"}, "y2": {"datum": 5.225}}},
        {"transform": [{"aggregate": [{"op": "count", "as": "n"}]}],
         "mark": {"type": "rule", "color": "#ff0000", "strokeWidth": 1.6},
         "encoding": {"y": {"datum": 1, "type": "quantitative"}}},
        {"transform": [{"aggregate": [{"op": "count", "as": "n"}]}],
         "mark": {"type": "text", "text": "arenas m.f. & f", "fontSize": 13, "color": "#222222", "align": "center"},
         "encoding": {"x": {"datum": 0.0000316, "type": "quantitative"}, "y": {"datum": 4.79, "type": "quantitative"}}},
        {"transform": [{"aggregate": [{"op": "count", "as": "n"}]}],
         "mark": {"type": "text", "text": "arenas g.", "fontSize": 13, "color": "#222222", "align": "center"},
         "encoding": {"x": {"datum": 0.000307, "type": "quantitative"}, "y": {"datum": 4.74, "type": "quantitative"}}},
        {"transform": [{"aggregate": [{"op": "count", "as": "n"}]}],
         "mark": {"type": "text", "text": "arenas m.", "fontSize": 13, "color": "#222222", "align": "center"},
         "encoding": {"x": {"datum": 0.000307, "type": "quantitative"}, "y": {"datum": 4.45, "type": "quantitative"}}},
        {"transform": [{"aggregate": [{"op": "count", "as": "n"}]}],
         "mark": {"type": "text", "text": "arenas m.g.", "fontSize": 13, "color": "#222222", "align": "center"},
         "encoding": {"x": {"datum": 0.00314, "type": "quantitative"}, "y": {"datum": 4.76, "type": "quantitative"}}},
        {"transform": [{"aggregate": [{"op": "count", "as": "n"}]}],
         "mark": {"type": "text", "text": "EQ.30", "fontSize": 20, "align": "right"},
         "encoding": {"x": {"datum": 0.0093, "type": "quantitative"}, "y": {"datum": 0.144, "type": "quantitative"}}},
        {"transform": [{"aggregate": [{"op": "count", "as": "n"}]}],
         "mark": {"type": "text", "text": "W", "fontSize": 21, "align": "left", "angle": 270, "dx": -46.5, "dy": -61},
         "encoding": {"x": {"datum": 0.00001, "type": "quantitative"}, "y": {"datum": 2.5, "type": "quantitative"}}},
        {"transform": [{"aggregate": [{"op": "count", "as": "n"}]}],
         "mark": {"type": "text", "text": "fcal", "fontSize": 12, "align": "left", "angle": 270, "dx": -26.7, "dy": -55},
         "encoding": {"x": {"datum": 0.00001, "type": "quantitative"}, "y": {"datum": 2.5, "type": "quantitative"}}},
        {"transform": [{"aggregate": [{"op": "count", "as": "n"}]}],
         "mark": {"type": "text", "text": "/W", "fontSize": 21, "align": "left", "angle": 270, "dx": -6, "dy": -61},
         "encoding": {"x": {"datum": 0.00001, "type": "quantitative"}, "y": {"datum": 2.5, "type": "quantitative"}}},
        {"transform": [{"aggregate": [{"op": "count", "as": "n"}]}],
         "mark": {"type": "text", "text": "fmed", "fontSize": 12, "align": "left", "angle": 270, "dx": 19.6, "dy": -55},
         "encoding": {"x": {"datum": 0.00001, "type": "quantitative"}, "y": {"datum": 2.5, "type": "quantitative"}}},
        {"transform": [{"aggregate": [{"op": "count", "as": "n"}]}],
         "mark": {"type": "text", "text": "Diámetro experimental, D", "fontSize": 20, "align": "right", "dx": 233, "dy": 99},
         "encoding": {"x": {"datum": 0.00001, "type": "quantitative"}, "y": {"datum": 0, "type": "quantitative"}}},
        {"transform": [{"aggregate": [{"op": "count", "as": "n"}]}],
         "mark": {"type": "text", "text": "N", "fontSize": 12, "align": "left", "dx": 233.5, "dy": 103},
         "encoding": {"x": {"datum": 0.00001, "type": "quantitative"}, "y": {"datum": 0, "type": "quantitative"}}},
        {"transform": [{"aggregate": [{"op": "count", "as": "n"}]}],
         "mark": {"type": "text", "text": "(m)", "fontSize": 20, "align": "left", "dx": 248, "dy": 99},
         "encoding": {"x": {"datum": 0.00001, "type": "quantitative"}, "y": {"datum": 0, "type": "quantitative"}}}
      ]
    }
  ],
  "config": {
    "font": "Liberation Sans",
    "view": {"stroke": null},
    "text": {"font": "Liberation Sans", "fontWeight": "bold", "color": "#000000", "baseline": "alphabetic"},
    "axis": {
      "labelFont": "Liberation Sans", "labelFontSize": 16, "labelFontWeight": "bold", "labelColor": "#000000",
      "labelOverlap": false, "labelFlush": false,
      "tickColor": "#333333", "tickWidth": 1,
      "domainColor": "#444444", "domainWidth": 1.2,
      "grid": true, "gridColor": "#555555", "gridWidth": 1.2
    },
    "axisX": {"labelAngle": -90, "labelPadding": 10, "tickSize": 4, "labelFontSize": 17},
    "axisY": {"labelPadding": 6, "tickSize": 10}
  }
}
